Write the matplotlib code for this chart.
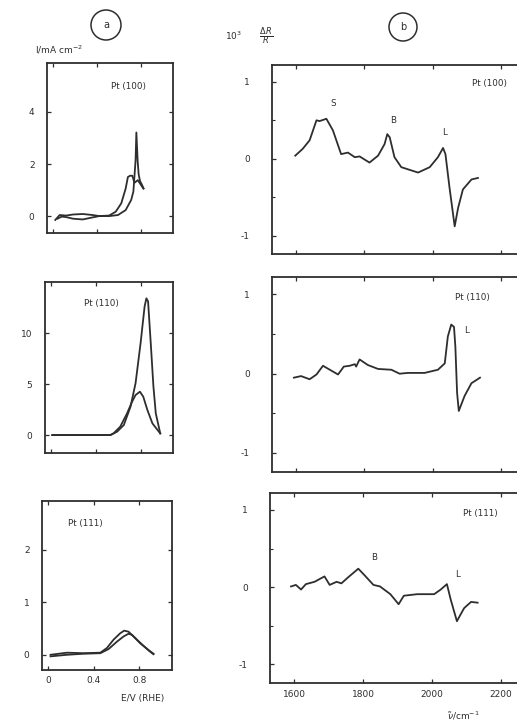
import matplotlib
matplotlib.use("Agg")
import matplotlib.pyplot as plt
from matplotlib.patches import Ellipse

# ---------------- data: (a) voltammograms ----------------
a100_x1 = [0.02, 0.06, 0.12, 0.18, 0.27, 0.36, 0.42, 0.51, 0.57, 0.62, 0.66, 0.68, 0.70, 0.72, 0.74, 0.77, 0.80, 0.82]
a100_y1 = [-0.15, 0.04, 0.02, 0.06, 0.08, 0.04, 0.0, 0.02, 0.17, 0.49, 1.06, 1.50, 1.55, 1.55, 1.28, 1.38, 1.19, 1.06]
a100_x2 = [0.04, 0.08, 0.12, 0.18, 0.27, 0.36, 0.42, 0.51, 0.59, 0.66, 0.71, 0.73, 0.75, 0.757, 0.769, 0.778, 0.79, 0.808, 0.823]
a100_y2 = [-0.10, -0.02, -0.04, -0.10, -0.13, -0.05, 0.0, 0.0, 0.04, 0.23, 0.62, 0.94, 2.15, 3.21, 2.10, 1.60, 1.35, 1.20, 1.06]

a110_x1 = [0.01, 0.53, 0.59, 0.65, 0.71, 0.755, 0.80, 0.836, 0.852, 0.867, 0.891, 0.915, 0.936, 0.976]
a110_y1 = [0.0, 0.0, 0.33, 0.98, 2.78, 5.07, 9.0, 12.6, 13.4, 13.1, 9.0, 4.74, 2.12, 0.16]
a110_x2 = [0.01, 0.53, 0.558, 0.618, 0.679, 0.724, 0.755, 0.794, 0.824, 0.861, 0.906, 0.976]
a110_y2 = [0.0, 0.0, 0.16, 0.82, 2.12, 3.27, 3.92, 4.25, 3.76, 2.45, 1.14, 0.16]

a111_x1 = [0.02, 0.166, 0.313, 0.459, 0.517, 0.576, 0.634, 0.669, 0.707, 0.751, 0.81, 0.883, 0.927]
a111_y1 = [0.0, 0.04, 0.03, 0.04, 0.13, 0.29, 0.41, 0.46, 0.44, 0.35, 0.22, 0.09, 0.02]
a111_x2 = [0.02, 0.166, 0.313, 0.459, 0.532, 0.605, 0.664, 0.707, 0.737, 0.78, 0.839, 0.897, 0.927]
a111_y2 = [-0.03, 0.0, 0.02, 0.03, 0.11, 0.25, 0.35, 0.40, 0.38, 0.29, 0.17, 0.06, 0.01]

# ---------------- data: (b) reflectance spectra ----------------
b100_x = [1598, 1620, 1640, 1660, 1669, 1689, 1708, 1732, 1752, 1772, 1786, 1815, 1840, 1859, 1867, 1874,
          1888, 1908, 1957, 1991, 2015, 2030, 2037, 2049, 2064, 2074, 2088, 2113, 2132]
b100_y = [0.04, 0.13, 0.24, 0.50, 0.49, 0.52, 0.37, 0.06, 0.08, 0.02, 0.03, -0.05, 0.04, 0.19, 0.32, 0.28,
          0.02, -0.11, -0.18, -0.11, 0.02, 0.14, 0.06, -0.38, -0.88, -0.64, -0.40, -0.27, -0.25]

b110_x = [1594, 1615, 1640, 1660, 1679, 1699, 1723, 1740, 1757, 1772, 1776, 1786, 1810, 1840, 1879, 1903,
          1927, 1976, 2015, 2035, 2044, 2054, 2062, 2066, 2071, 2076, 2093, 2113, 2138]
b110_y = [-0.05, -0.03, -0.07, -0.01, 0.10, 0.05, -0.01, 0.09, 0.10, 0.12, 0.09, 0.18, 0.11, 0.06, 0.05, 0.00,
          0.01, 0.01, 0.05, 0.13, 0.47, 0.62, 0.59, 0.34, -0.24, -0.47, -0.28, -0.12, -0.05]

b111_x = [1591, 1605, 1620, 1634, 1659, 1688, 1703, 1723, 1737, 1757, 1786, 1801, 1830, 1849, 1879, 1903,
          1918, 1957, 2006, 2025, 2043, 2054, 2072, 2083, 2093, 2113, 2132]
b111_y = [0.01, 0.03, -0.03, 0.04, 0.07, 0.14, 0.03, 0.07, 0.05, 0.13, 0.24, 0.17, 0.03, 0.01, -0.09, -0.22,
          -0.11, -0.09, -0.09, -0.03, 0.04, -0.16, -0.44, -0.35, -0.27, -0.19, -0.20]

a_xticks = [0, 0.4, 0.8]
a_xticklabels = ["0", "0.4", "0.8"]
a100_yticks = [0, 2, 4]
a110_yticks = [0, 5, 10]
a111_yticks = [0, 1, 2]
b_xticks = [1600, 1800, 2000, 2200]
b_yticks = [-1, 0, 1]
b_yminor = [-0.5, 0.5]

# ---------------- layout ----------------
W, H = 517, 722
fig = plt.figure(figsize=(W / 100, H / 100), dpi=100)
INK = "#2e2e2e"
plt.rcParams["font.family"] = ["DejaVu Sans"]
FS = 6.5
LFS = 6.3


def rect(left, top, right, bottom):
    return [left / W, 1 - bottom / H, (right - left) / W, (bottom - top) / H]


def style(ax, right=True):
    for s in ax.spines.values():
        s.set_linewidth(1.3)
        s.set_color(INK)
    ax.tick_params(direction="in", length=3, width=0.9, colors=INK, labelsize=FS,
                   top=True, right=right, labelcolor=INK)
    ax.tick_params(which="minor", direction="in", length=2, width=0.8, colors=INK, top=False, right=right)


lw = 1.3

# (a) panels
axa1 = fig.add_axes(rect(47, 63, 173, 233))
axa2 = fig.add_axes(rect(45, 282, 173, 453))
axa3 = fig.add_axes(rect(42, 501, 172, 670))

axa1.plot(a100_x1, a100_y1, color=INK, lw=lw)
axa1.plot(a100_x2, a100_y2, color=INK, lw=lw)
axa1.set_ylim(-0.65, 5.88)
axa1.set_yticks(a100_yticks)
axa1.text(0.69, 4.97, "Pt (100)", fontsize=LFS, color=INK, ha="center", va="center")

axa2.plot(a110_x1, a110_y1, color=INK, lw=lw)
axa2.plot(a110_x2, a110_y2, color=INK, lw=lw)
axa2.set_ylim(-1.76, 15.0)
axa2.set_yticks(a110_yticks)
axa2.text(0.45, 12.9, "Pt (110)", fontsize=LFS, color=INK, ha="center", va="center")

axa3.plot(a111_x1, a111_y1, color=INK, lw=lw)
axa3.plot(a111_x2, a111_y2, color=INK, lw=lw)
axa3.set_ylim(-0.29, 2.93)
axa3.set_yticks(a111_yticks)
axa3.text(0.33, 2.5, "Pt (111)", fontsize=LFS, color=INK, ha="center", va="center")

for ax in (axa1, axa2, axa3):
    ax.set_xlim(-0.055, 1.09)
    ax.set_xticks(a_xticks)
    style(ax)
    ax.tick_params(axis="y", pad=9)
for ax in (axa1, axa2):
    ax.set_xticklabels([])
axa3.set_xticklabels(a_xticklabels)
axa3.tick_params(axis="x", pad=4)

# (b) panels
axb1 = fig.add_axes(rect(272, 65, 519, 254))
axb2 = fig.add_axes(rect(272, 277, 519, 472))
axb3 = fig.add_axes(rect(270, 493, 519, 683))

axb1.plot(b100_x, b100_y, color=INK, lw=lw)
axb1.text(1708, 0.72, "S", fontsize=LFS, color=INK, ha="center", va="center")
axb1.text(1884, 0.50, "B", fontsize=LFS, color=INK, ha="center", va="center")
axb1.text(2033, 0.34, "L", fontsize=LFS, color=INK, ha="center", va="center")
axb1.text(2166, 0.98, "Pt (100)", fontsize=LFS, color=INK, ha="center", va="center")

axb2.plot(b110_x, b110_y, color=INK, lw=lw)
axb2.text(2098, 0.54, "L", fontsize=LFS, color=INK, ha="center", va="center")
axb2.text(2117, 0.96, "Pt (110)", fontsize=LFS, color=INK, ha="center", va="center")

axb3.plot(b111_x, b111_y, color=INK, lw=lw)
axb3.text(1832, 0.39, "B", fontsize=LFS, color=INK, ha="center", va="center")
axb3.text(2074, 0.17, "L", fontsize=LFS, color=INK, ha="center", va="center")
axb3.text(2141, 0.95, "Pt (111)", fontsize=LFS, color=INK, ha="center", va="center")

for ax in (axb1, axb2, axb3):
    ax.set_xlim(1530, 2252)
    ax.set_ylim(-1.24, 1.22)
    ax.set_xticks(b_xticks)
    ax.set_yticks(b_yticks)
    ax.set_yticks(b_yminor, minor=True)
    ax.set_yticklabels(["-1", "0", "1"])
    style(ax, right=False)
    ax.tick_params(axis="y", pad=16)
for ax in (axb1, axb2):
    ax.set_xticklabels([])
axb3.set_xticklabels([str(v) for v in b_xticks])
axb3.tick_params(axis="x", pad=5)

# header / axis texts
fig.text(35 / W, 1 - 50 / H, r"I/mA cm$^{-2}$", fontsize=FS, color=INK, ha="left", va="center")
fig.text(225 / W, 1 - 36 / H, r"10$^{3}$", fontsize=FS, color=INK, ha="left", va="center")
fig.text(266 / W, 1 - 36 / H, r"$\frac{\Delta\,R}{R}$", fontsize=8.5, color=INK, ha="center", va="center")
fig.text(143 / W, 1 - 698 / H, "E/V (RHE)", fontsize=FS, color=INK, ha="center", va="center")
fig.text(463 / W, 1 - 716 / H, r"$\tilde{\nu}$/cm$^{-1}$", fontsize=FS, color=INK, ha="center", va="center")

for cx, cy, r, lab in [(106, 25, 15, "a"), (403, 27, 14, "b")]:
    fig.patches.append(Ellipse((cx / W, 1 - cy / H), 2 * r / W, 2 * r / H, transform=fig.transFigure,
                               fill=False, lw=1.1, ec=INK))
    fig.text(cx / W, 1 - cy / H, lab, fontsize=7, color=INK, ha="center", va="center")

fig.savefig("out.png", dpi=100)
